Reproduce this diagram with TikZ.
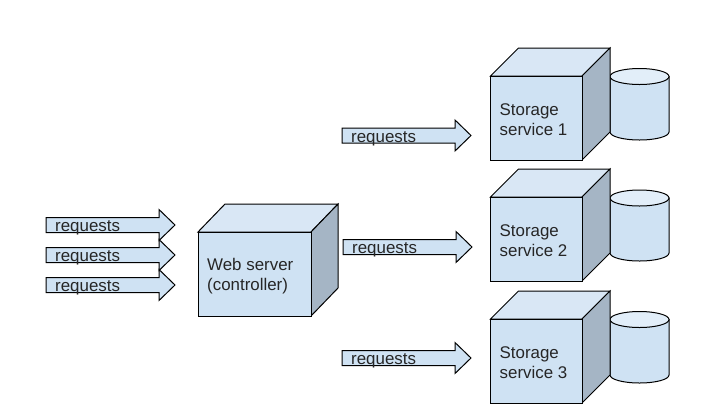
\documentclass[tikz,border=0pt]{standalone}
\usepackage{fontspec}
\setmainfont{Liberation Sans}
\definecolor{cfront}{HTML}{CFE2F3}
\definecolor{ctop}{HTML}{D9E7F5}
\definecolor{cside}{HTML}{A5B5C5}
\definecolor{clid}{HTML}{E2EEF9}
\tikzset{
  x=1pt,y=-1pt,
  outline/.style={draw=black,line width=1pt,line join=miter},
  label text/.style={font=\fontsize{16.9}{20}\selectfont,inner sep=0pt,align=left,anchor=west,text=black!85},
  request text/.style={font=\fontsize{16.9}{20}\selectfont,inner sep=0pt,anchor=base west,text=black!85}
}
% name, x, y-center of arrow, text x
\newcommand{\reqarrow}[4]{%
  \filldraw[outline,fill=cfront] (#2,#3-7.5) -- ++(113,0) -- ++(0,-8) -- (#2+129,#3) -- (#2+113,#3+15.5) -- ++(0,-8) -- (#2,#3+7.5) -- cycle;
  \node[request text] (#1) at (#4,#3+6.5) {requests};
}
% name, left, top of front, right, bottom, depth x, depth y, text
\newcommand{\cube}[8]{%
  \filldraw[outline,fill=ctop] (#2,#3) -- (#2+#6,#3-#7) -- (#4+#6,#3-#7) -- (#4,#3) -- cycle;
  \filldraw[outline,fill=cside] (#4,#3) -- (#4+#6,#3-#7) -- (#4+#6,#5-#7) -- (#4,#5) -- cycle;
  \filldraw[outline,fill=cfront] (#2,#3) rectangle (#4,#5);
  \node[label text] (#1) at (#2+9,#3+44) {#8};
}
% x left, y centre of lid, y bottom of side
\newcommand{\drum}[3]{%
  \filldraw[outline,fill=cfront] (#1,#2) -- (#1,#3) arc[start angle=180,end angle=360,x radius=29.5,y radius=-8] -- (#1+59,#2) -- cycle;
  \filldraw[outline,fill=clid] (#1+29.5,#2) ellipse[x radius=29.5,y radius=8];
}
\begin{document}
\begin{tikzpicture}
\useasboundingbox (0,0) rectangle (709,413);
\fill[white] (0,0) rectangle (709,413);
\drum{610}{76.5}{132}
\drum{610}{198}{253}
\drum{610}{319.5}{375}
\cube{storageone}{490.5}{76}{582}{160}{28}{28}{Storage\\service 1}
\cube{storagetwo}{490.5}{197}{582}{281}{28}{28}{Storage\\service 2}
\cube{storagethree}{490.5}{319}{582}{403}{28}{28}{Storage\\service 3}
\cube{webserver}{198}{232}{311}{316}{27}{28}{Web server\\(controller)}
\reqarrow{reqa}{46}{225}{55}
\reqarrow{reqb}{46}{255}{55}
\reqarrow{reqc}{46}{285}{55}
\reqarrow{reqd}{342}{135.5}{351}
\reqarrow{reqe}{343}{247}{352}
\reqarrow{reqf}{342}{358}{351}
\end{tikzpicture}
\end{document}
